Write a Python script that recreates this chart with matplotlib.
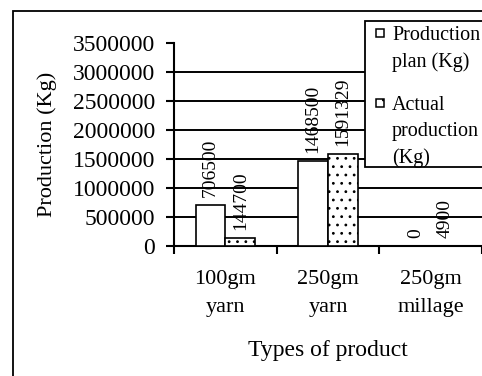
import matplotlib
matplotlib.use("Agg")
import matplotlib.pyplot as plt
from matplotlib.patches import Rectangle
import numpy as np

categories = ["100gm\nyarn", "250gm\nyarn", "250gm\nmillage"]
plan = [706500, 1468500, 0]
actual = [144700, 1591329, 4900]
plan_labels = ["706500", "1468500", "0"]
actual_labels = ["144700", "1591329", "4900"]
legend_labels = ["Production\nplan (Kg)", "Actual\nproduction\n(Kg)"]
yticks = [0, 500000, 1000000, 1500000, 2000000, 2500000, 3000000, 3500000]

plt.rcParams['font.family'] = ['Liberation Serif', 'DejaVu Serif']
plt.rcParams['hatch.linewidth'] = 0.8

W, H = 482, 376
fig = plt.figure(figsize=(W / 100, H / 100), dpi=100)

def fx(px):
    return px / W

def fy(py):
    return 1 - py / H

ax = fig.add_axes([fx(174), fy(246), fx(482) - fx(174), fy(43) - fy(246)])

x = np.arange(len(categories))
w = 0.29
b1 = ax.bar(x - w / 2, plan, w, color='white', edgecolor='black', linewidth=1.2, zorder=3)
b2 = ax.bar(x + w / 2, actual, w, color='white', edgecolor='black', linewidth=1.2,
            hatch='..', zorder=3)

for rect, lab in zip(b1, plan_labels):
    ax.annotate(lab, (rect.get_x() + rect.get_width() / 2, rect.get_height()),
                xytext=(0, 5.5), textcoords='offset points', rotation=90,
                ha='center', va='bottom', fontsize=14, zorder=4)
for rect, lab in zip(b2, actual_labels):
    ax.annotate(lab, (rect.get_x() + rect.get_width() / 2, rect.get_height()),
                xytext=(0, 5.5), textcoords='offset points', rotation=90,
                ha='center', va='bottom', fontsize=14, zorder=4)

ax.set_xlim(-0.5, len(categories) - 0.5)
ax.set_ylim(0, 3500000)
ax.set_yticks(yticks)
ax.set_yticklabels([str(v) for v in yticks])
for v in yticks[1:-1]:
    ax.axhline(v, color='black', linewidth=1.4, zorder=1)

ax.set_xticks(np.arange(-0.5, len(categories), 1.0))
ax.set_xticklabels([])
ax.set_xticks(x, minor=True)
ax.set_xticklabels(categories, minor=True, fontsize=16, linespacing=1.7)
ax.tick_params(axis='x', which='major', direction='out', length=5.5, width=1.5)
ax.tick_params(axis='x', which='minor', length=0, pad=17)
ax.tick_params(axis='y', direction='out', length=5.8, width=1.5, pad=8, labelsize=17)

for s in ['top', 'right']:
    ax.spines[s].set_visible(False)
for s in ['left', 'bottom']:
    ax.spines[s].set_linewidth(1.5)

ax.set_xlabel("Types of product", fontsize=17, labelpad=16)
ax.set_ylabel("Production (Kg)", fontsize=16)
ax.yaxis.set_label_coords(-0.38, 0.5)

# outer border
fig.patches.append(Rectangle((fx(13), -0.2), 1.5, fy(11) + 0.2, transform=fig.transFigure,
                             fill=False, edgecolor='black', linewidth=1.3, zorder=10))

# legend box
fig.patches.append(Rectangle((fx(365), fy(167)), 0.5, fy(21) - fy(167), transform=fig.transFigure,
                             facecolor='white', edgecolor='black', linewidth=1.3, zorder=5))
fig.patches.append(Rectangle((fx(376), fy(37)), fx(8), fy(0) - fy(8), transform=fig.transFigure,
                             facecolor='white', edgecolor='black', linewidth=1.1, zorder=6))
fig.patches.append(Rectangle((fx(376), fy(107)), fx(8), fy(0) - fy(8), transform=fig.transFigure,
                             facecolor='white', edgecolor='black', linewidth=1.1, hatch='..', zorder=6))
fig.text(fx(392), fy(26), legend_labels[0], fontsize=14.5, va='top', ha='left',
         linespacing=1.48, zorder=7)
fig.text(fx(392), fy(96), legend_labels[1], fontsize=14.5, va='top', ha='left',
         linespacing=1.48, zorder=7)

fig.savefig("out.png", dpi=100)
